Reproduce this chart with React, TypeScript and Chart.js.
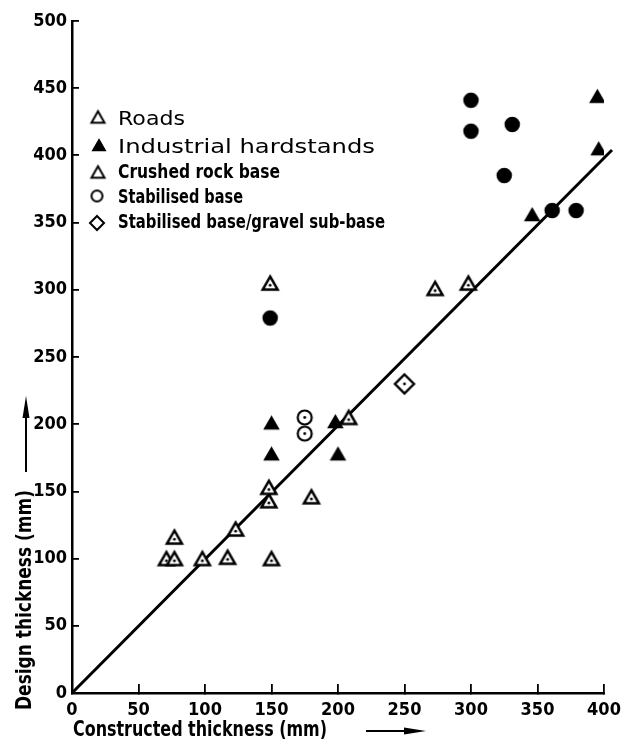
import React, { useEffect, useRef } from 'react';
import { Chart, registerables } from 'chart.js';

Chart.register(...registerables);

// ---- data (constructed thickness mm, design thickness mm) ----
const roadsCrushedRock: [number, number][] = [
  [71, 100], [77, 100], [98, 100], [117, 101], [150, 100], [77, 116], [123, 122],
  [148, 143], [148, 153], [180, 146], [208, 205], [149, 305], [273, 301], [298, 305],
];
const industrialCrushedRock: [number, number][] = [
  [150, 201], [150, 178], [198, 202], [200, 178], [346, 356], [396, 405], [395, 444],
];
const roadsStabilised: [number, number][] = [[175, 205], [175, 193]];
const industrialStabilised: [number, number][] = [
  [149, 279], [300, 441], [300, 418], [331, 423], [325, 385], [361, 359], [379, 359],
];
const roadsStabilisedGravel: [number, number][] = [[250, 230]];
const equalityLine: [number, number][] = [[0, 0], [406, 404]];

const xTickStep = 50;
const yTickStep = 50;
const xMax = 400;
const yMax = 500;

const legendLabels = [
  'Roads',
  'Industrial hardstands',
  'Crushed rock base',
  'Stabilised base',
  'Stabilised base/gravel sub-base',
];
const xTitle = 'Constructed thickness (mm)';
const yTitle = 'Design thickness (mm)';

const NARROW = "'DejaVu Sans Condensed', 'Liberation Sans Narrow', sans-serif";
const WIDE = "'DejaVu Sans', sans-serif";

type Kind = 'triangle' | 'circle' | 'diamond';

function makeMarker(kind: Kind, filled: boolean, dot: boolean, size: number, lw: number): HTMLCanvasElement {
  const S = Math.ceil(size + lw * 2 + 4);
  const c = document.createElement('canvas');
  c.width = S;
  c.height = S;
  const ctx = c.getContext('2d')!;
  const m = S / 2;
  ctx.lineWidth = lw;
  ctx.strokeStyle = '#000';
  ctx.fillStyle = '#000';
  ctx.lineJoin = 'miter';
  ctx.beginPath();
  let dy = 0;
  if (kind === 'triangle') {
    const w = size;
    const h = w * 0.87;
    ctx.moveTo(m, m - h / 2);
    ctx.lineTo(m + w / 2, m + h / 2);
    ctx.lineTo(m - w / 2, m + h / 2);
    ctx.closePath();
    dy = h / 6;
  } else if (kind === 'circle') {
    ctx.arc(m, m, size / 2, 0, Math.PI * 2);
  } else {
    ctx.moveTo(m, m - size / 2);
    ctx.lineTo(m + size / 2, m);
    ctx.lineTo(m, m + size / 2);
    ctx.lineTo(m - size / 2, m);
    ctx.closePath();
  }
  if (filled) {
    ctx.fill();
    ctx.stroke();
  } else {
    ctx.fillStyle = '#fff';
    ctx.fill();
    ctx.stroke();
    if (dot) {
      ctx.fillStyle = '#000';
      ctx.beginPath();
      ctx.arc(m, m + dy, 1.4, 0, Math.PI * 2);
      ctx.fill();
    }
  }
  return c;
}

function fitText(ctx: CanvasRenderingContext2D, text: string, x: number, y: number, width: number, font: string) {
  ctx.save();
  ctx.font = font;
  const w = ctx.measureText(text).width;
  ctx.translate(x, y);
  ctx.scale(width / w, 1);
  ctx.fillText(text, 0, 0);
  ctx.restore();
}

function toPts(a: [number, number][]) {
  return a.map(([x, y]) => ({ x, y }));
}

export default function App() {
  const ref = useRef<HTMLCanvasElement | null>(null);

  useEffect(() => {
    if (!ref.current) return;
    const openTri = makeMarker('triangle', false, true, 15, 2.5);
    const fillTri = makeMarker('triangle', true, false, 14, 1.5);
    const openCirc = makeMarker('circle', false, true, 14, 2.2);
    const fillCirc = makeMarker('circle', true, false, 14, 1.5);
    const openDiam = makeMarker('diamond', false, true, 19, 2.4);

    const legOpenTri = makeMarker('triangle', false, false, 13, 2);
    const legFillTri = makeMarker('triangle', true, false, 13, 1.2);
    const legCirc = makeMarker('circle', false, false, 11, 2);
    const legDiam = makeMarker('diamond', false, false, 14, 2);

    const annot = {
      id: 'annot',
      afterDraw(chart: any) {
        const ctx: CanvasRenderingContext2D = chart.ctx;
        ctx.save();
        ctx.fillStyle = '#000';
        ctx.strokeStyle = '#000';
        ctx.textAlign = 'left';
        ctx.textBaseline = 'alphabetic';
        // legend
        const rows = [
          { img: legOpenTri, cx: 98, cy: 117, base: 125, w: 67, font: `normal 20px ${WIDE}` },
          { img: legFillTri, cx: 99, cy: 145, base: 153, w: 257, font: `normal 20px ${WIDE}` },
          { img: legOpenTri, cx: 98, cy: 172, base: 178, w: 162, font: `bold 20px ${NARROW}` },
          { img: legCirc, cx: 97, cy: 196, base: 203, w: 125, font: `bold 20px ${NARROW}` },
          { img: legDiam, cx: 97, cy: 223, base: 228, w: 267, font: `bold 20px ${NARROW}` },
        ];
        rows.forEach((r, i) => {
          ctx.drawImage(r.img, r.cx - r.img.width / 2, r.cy - r.img.height / 2);
          fitText(ctx, legendLabels[i], 118, r.base, r.w, r.font);
        });
        // x title
        fitText(ctx, xTitle, 73, 736, 254, `bold 21px ${NARROW}`);
        // x arrow
        ctx.lineWidth = 2;
        ctx.beginPath();
        ctx.moveTo(366, 731);
        ctx.lineTo(410, 731);
        ctx.stroke();
        ctx.beginPath();
        ctx.moveTo(426, 731);
        ctx.lineTo(404, 727.5);
        ctx.lineTo(404, 734.5);
        ctx.closePath();
        ctx.fill();
        // y title
        ctx.save();
        ctx.translate(31, 710);
        ctx.rotate(-Math.PI / 2);
        fitText(ctx, yTitle, 0, 0, 220, `bold 21px ${NARROW}`);
        ctx.restore();
        // y arrow
        ctx.beginPath();
        ctx.moveTo(26, 472);
        ctx.lineTo(26, 412);
        ctx.stroke();
        ctx.beginPath();
        ctx.moveTo(26, 396);
        ctx.lineTo(22.5, 418);
        ctx.lineTo(29.5, 418);
        ctx.closePath();
        ctx.fill();
        ctx.restore();
      },
    };

    const tickFont = { family: NARROW, size: 18, weight: 'bold' as const };

    const chart = new Chart(ref.current, {
      type: 'scatter',
      data: {
        datasets: [
          {
            label: 'Line',
            data: toPts(equalityLine),
            showLine: true,
            borderColor: '#000',
            borderWidth: 3,
            pointRadius: 0,
            clip: false as any,
            order: 10,
          } as any,
          { label: 'Roads, crushed rock base', data: toPts(roadsCrushedRock), pointStyle: openTri, order: 1 },
          { label: 'Industrial hardstands, crushed rock base', data: toPts(industrialCrushedRock), pointStyle: fillTri, order: 1 },
          { label: 'Roads, stabilised base', data: toPts(roadsStabilised), pointStyle: openCirc, order: 1 },
          { label: 'Industrial hardstands, stabilised base', data: toPts(industrialStabilised), pointStyle: fillCirc, order: 1 },
          { label: 'Roads, stabilised base/gravel sub-base', data: toPts(roadsStabilisedGravel), pointStyle: openDiam, order: 1 },
        ],
      },
      options: {
        responsive: false,
        animation: false,
        events: [],
        layout: { padding: { left: 0, top: 21, right: 22, bottom: 0 } },
        plugins: { legend: { display: false }, tooltip: { enabled: false } },
        scales: {
          x: {
            type: 'linear',
            min: 0,
            max: xMax,
            border: { display: true, color: '#000', width: 2.5 },
            grid: { display: true, drawOnChartArea: false, drawTicks: true, tickLength: -9, color: '#000', lineWidth: 1.8 },
            ticks: { stepSize: xTickStep, color: '#000', font: tickFont, padding: 16, maxRotation: 0, autoSkip: false },
            afterFit(scale: any) {
              scale.height = 46;
              scale.paddingLeft = 0;
              scale.paddingRight = 0;
            },
          },
          y: {
            type: 'linear',
            min: 0,
            max: yMax,
            border: { display: true, color: '#000', width: 2.5 },
            grid: { display: true, drawOnChartArea: false, drawTicks: true, tickLength: -7, color: '#000', lineWidth: 1.8 },
            ticks: { stepSize: yTickStep, color: '#000', font: tickFont, padding: 12, autoSkip: false },
            afterFit(scale: any) {
              scale.width = 72;
              scale.paddingTop = 0;
              scale.paddingBottom = 0;
            },
          },
        },
      },
      plugins: [annot],
    });
    return () => chart.destroy();
  }, []);

  return (
    <div style={{ position: 'absolute', left: 0, top: 0, width: 626, height: 739, background: '#fff' }}>
      <canvas ref={ref} width={626} height={739} style={{ display: 'block' }} />
    </div>
  );
}
